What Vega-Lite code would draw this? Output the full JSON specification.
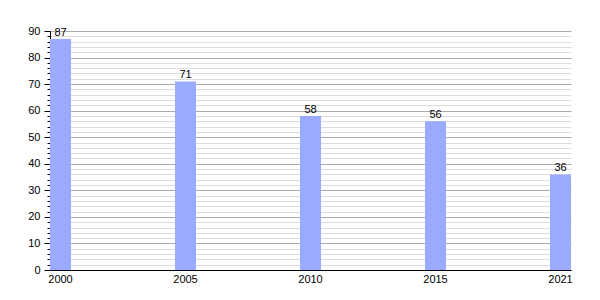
{
  "$schema": "https://vega.github.io/schema/vega-lite/v6.json",
  "autosize": "none",
  "width": 521,
  "height": 239,
  "padding": {"left": 50, "top": 31, "right": 29, "bottom": 30},
  "background": "white",
  "config": {"view": {"stroke": null}, "font": "Liberation Sans"},
  "data": {"values": [
    {"year": "2000", "value": 87},
    {"year": "2005", "value": 71},
    {"year": "2010", "value": 58},
    {"year": "2015", "value": 56},
    {"year": "2021", "value": 36}
  ]},
  "encoding": {
    "x": {"field": "year", "type": "ordinal",
      "scale": {"paddingInner": 0.832, "paddingOuter": 0},
      "axis": {"title": null, "labelAngle": 0, "ticks": false, "domainColor": "black", "domainWidth": 1, "labelFontSize": 11, "labelColor": "black", "labelPadding": 3, "grid": false}},
    "y": {"field": "value", "type": "quantitative",
      "scale": {"domain": [0, 90], "nice": false},
      "axis": {"title": null, "values": [0,2,4,6,8,10,12,14,16,18,20,22,24,26,28,30,32,34,36,38,40,42,44,46,48,50,52,54,56,58,60,62,64,66,68,70,72,74,76,78,80,82,84,86,88,90],
        "labelExpr": "datum.value % 10 === 0 ? datum.label : ''",
        "grid": true,
        "gridColor": {"condition": {"test": "datum.value % 10 === 0", "value": "#aaaaaa"}, "value": "#dddddd"},
        "tickSize": {"condition": {"test": "datum.value % 10 === 0", "value": 6}, "value": 3},
        "tickColor": "black", "domainColor": "black", "labelColor": "black", "labelFontSize": 11, "labelPadding": 4}}
  },
  "layer": [
    {"mark": {"type": "bar", "color": "#99aaff"}},
    {"mark": {"type": "text", "dy": -6, "fontSize": 11, "color": "black"},
     "encoding": {"text": {"field": "value", "type": "quantitative"}}}
  ]
}
